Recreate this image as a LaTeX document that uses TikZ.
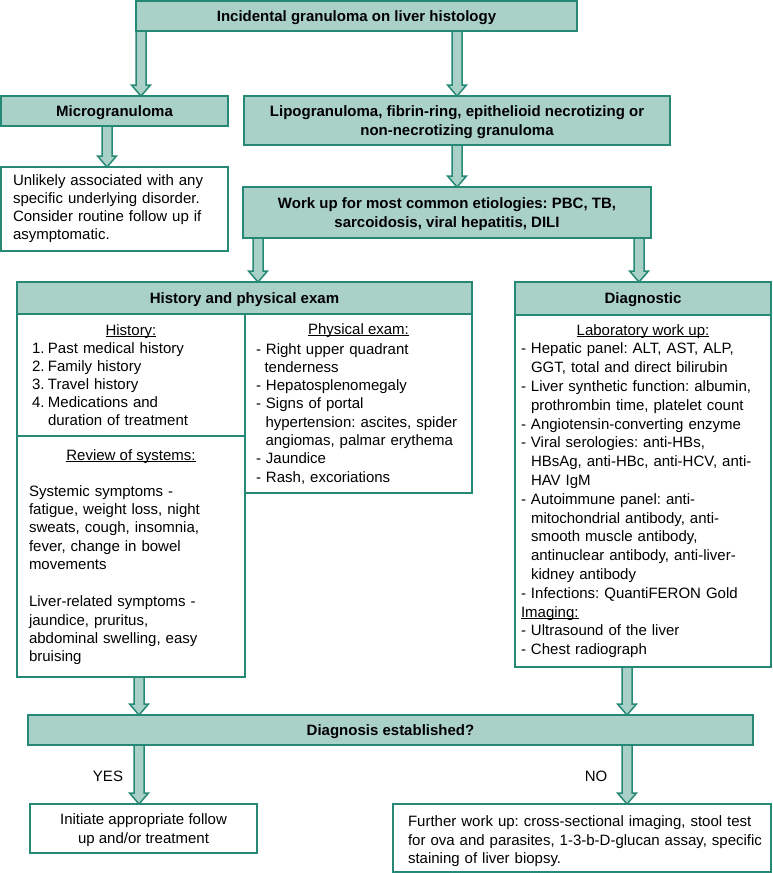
\documentclass[tikz,border=0pt]{standalone}
\usepackage{fontspec}
\setmainfont{Liberation Sans}
\usetikzlibrary{calc}
\frenchspacing
\definecolor{tealc}{RGB}{38,137,118}
\definecolor{tealf}{RGB}{170,209,200}
\newsavebox\ulbox
\newcommand{\myul}[1]{\leavevmode\sbox\ulbox{#1}\rlap{\rule[-2pt]{\wd\ulbox}{0.8pt}}\usebox\ulbox}
\newcommand{\bodyfont}[1]{\fontsize{15}{#1}\selectfont\frenchspacing}
\newcommand{\blockarrow}[2]{%
  \path #1 coordinate (ba-s);
  \path #2 coordinate (ba-e);
  \filldraw[barrow] ($(ba-s)+(-5,0)$) -- ($(ba-e)+(-5,-11)$) -- ($(ba-e)+(-9.5,-11)$)
    -- (ba-e) -- ($(ba-e)+(9.5,-11)$) -- ($(ba-e)+(5,-11)$) -- ($(ba-s)+(5,0)$) -- cycle;
}
\begin{document}
\begin{tikzpicture}[x=1pt,y=-1pt,
  box/.style={draw=tealc,line width=1.8pt,inner sep=0pt,outer sep=0pt,anchor=north west,text depth=0pt},
  hbox/.style={box,fill=tealf,font=\bodyfont{19}\bfseries,align=center},
  wbox/.style={box,fill=white,font=\bodyfont{18.4},align=center},
  txt/.style={inner sep=0pt,outer sep=0pt,anchor=north west,align=left,text width=#1},
  head/.style={inner sep=0pt,outer sep=0pt,anchor=base,font=\bodyfont{18}},
  lbl/.style={inner sep=0pt,outer sep=0pt,font=\bodyfont{18}},
  barrow/.style={draw=tealc,fill=tealf,line width=1.5pt,line join=miter}]
\useasboundingbox (0,0) rectangle (772,873);

% boxes
\node[hbox,minimum width=441pt,minimum height=30pt] (T) at (136,1) {Incidental granuloma on liver histology};
\node[hbox,minimum width=227pt,minimum height=30pt] (M) at (1,96) {Microgranuloma};
\node[hbox,minimum width=426pt,minimum height=49pt] (L) at (244,96) {Lipogranuloma, fibrin-ring, epithelioid necrotizing or\\non-necrotizing granuloma};
\node[wbox,minimum width=227pt,minimum height=84pt] (U) at (1,167) {};
\node[hbox,minimum width=408pt,minimum height=51pt] (W) at (243,187) {Work up for most common etiologies: PBC, TB,\\sarcoidosis, viral hepatitis, DILI};
\node[hbox,minimum width=455pt,minimum height=32pt] (H) at (17,282) {History and physical exam};
\node[wbox,minimum width=228pt,minimum height=122pt] (HH) at (17,314) {};
\node[wbox,minimum width=227pt,minimum height=179pt] (HP) at (245,314) {};
\node[wbox,minimum width=228pt,minimum height=241pt] (HR) at (17,436) {};
\node[hbox,minimum width=256pt,minimum height=33pt] (D) at (515,282) {Diagnostic};
\node[wbox,minimum width=256pt,minimum height=352pt] (DB) at (515,315) {};
\node[hbox,minimum width=725pt,minimum height=30pt] (E) at (28,715) {Diagnosis established?};
\node[wbox,minimum width=227pt,minimum height=49pt] (Y) at (30,804) {Initiate appropriate follow\\up and/or treatment};
\node[wbox,minimum width=378pt,minimum height=68pt] (F) at (393,804) {};

% texts
\node[txt=214pt,font=\bodyfont{18.3}] (Ut) at (13,172.2) {\strut Unlikely associated with any\\specific underlying disorder.\\Consider routine follow up if\\asymptomatic.};

\node[head] (HHh) at (131,335) {\myul{History:}};
\node[txt=210pt,font=\bodyfont{18}] (HHt) at (32,340.4) {\strut\makebox[16pt][l]{1.}Past medical history\\\makebox[16pt][l]{2.}Family history\\\makebox[16pt][l]{3.}Travel history\\\makebox[16pt][l]{4.}Medications and\\\hspace*{16pt}duration of treatment};

\node[head] (HPh) at (358.5,334) {\myul{Physical exam:}};
\node[txt=214pt,font=\bodyfont{18.3}] (HPt) at (256,341.2) {\strut - Right upper quadrant\\\hspace*{8.5pt}tenderness\\- Hepatosplenomegaly\\- Signs of portal\\\hspace*{9.5pt}hypertension: ascites, spider\\\hspace*{9.5pt}angiomas, palmar erythema\\- Jaundice\\- Rash, excoriations};

\node[head] (HRh) at (131,460) {\myul{Review of systems:}};
\node[txt=214pt,font=\bodyfont{18.44}] (HRt) at (29,483.1) {\strut Systemic symptoms -\\fatigue, weight loss, night\\sweats, cough, insomnia,\\fever, change in bowel\\movements\\[18.44pt]Liver-related symptoms -\\jaundice, pruritus,\\abdominal swelling, easy\\bruising};

\node[head] (DBh) at (643,335) {\myul{Laboratory work up:}};
\node[txt=250pt,font=\bodyfont{18.8}] (DBt) at (521,340.8) {\strut - Hepatic panel: ALT, AST, ALP,\\\hspace*{10pt}GGT, total and direct bilirubin\\- Liver synthetic function: albumin,\\\hspace*{10pt}prothrombin time, platelet count\\- Angiotensin-converting enzyme\\- Viral serologies: anti-HBs,\\\hspace*{10pt}HBsAg, anti-HBc, anti-HCV, anti-\\\hspace*{10pt}HAV IgM\\- Autoimmune panel: anti-\\\hspace*{10pt}mitochondrial antibody, anti-\\\hspace*{10pt}smooth muscle antibody,\\\hspace*{10pt}antinuclear antibody, anti-liver-\\\hspace*{10pt}kidney antibody\\- Infections: QuantiFERON Gold\\\myul{Imaging:}\\- Ultrasound of the liver\\- Chest radiograph};

\node[txt=360pt,font=\bodyfont{18.5}] (Ft) at (408,814) {\strut Further work up: cross-sectional imaging, stool test\\for ova and parasites, 1-3-b-D-glucan assay, specific\\staining of liver biopsy.};

\node[lbl] (yes) at (108,776) {YES};
\node[lbl] (no) at (596,776) {NO};

% arrow positions
\coordinate (xa) at (141,0);
\coordinate (xb) at (457,0);
\coordinate (xc) at (107,0);
\coordinate (xd) at (258,0);
\coordinate (xe) at (639,0);
\coordinate (xf) at (139,0);
\coordinate (xg) at (627,0);

\blockarrow{(xa |- T.south)}{(xa |- M.north)}
\blockarrow{(xb |- T.south)}{(xb |- L.north)}
\blockarrow{(xc |- M.south)}{(xc |- U.north)}
\blockarrow{(xb |- L.south)}{(xb |- W.north)}
\blockarrow{(xd |- W.south)}{(xd |- H.north)}
\blockarrow{(xe |- W.south)}{(xe |- D.north)}
\blockarrow{(xf |- HR.south)}{(xf |- E.north)}
\blockarrow{(xg |- DB.south)}{(xg |- E.north)}
\blockarrow{(xf |- E.south)}{(xf |- Y.north)}
\blockarrow{(xg |- E.south)}{(xg |- F.north)}
\end{tikzpicture}
\end{document}
